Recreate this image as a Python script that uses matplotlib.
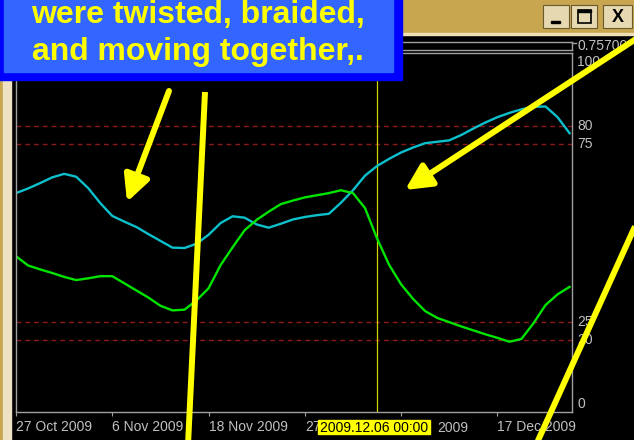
import numpy as np
import matplotlib
matplotlib.use("Agg")
import matplotlib.pyplot as plt
from matplotlib.patches import Rectangle, FancyArrowPatch
from matplotlib.lines import Line2D
import matplotlib.transforms as mtransforms

plt.rcParams['font.family'] = ['Liberation Sans', 'DejaVu Sans']

# ── data ─────────────────────────────────────────────────────────────────────
bar_index = np.arange(47)
cyan_line = [61.2, 62.5, 64.0, 65.6, 66.6, 65.8, 62.6, 58.4, 54.8, 53.2,
             51.7, 49.7, 47.8, 45.9, 45.8, 47.0, 49.5, 52.8, 54.7, 54.3,
             52.4, 51.5, 52.6, 53.8, 54.5, 55.0, 55.4, 58.5, 62.0, 66.1,
             68.8, 70.8, 72.6, 74.0, 75.2, 75.6, 76.0, 77.5, 79.3, 81.0,
             82.5, 83.7, 84.7, 85.4, 85.5, 82.5, 78.0]
green_line = [43.5, 40.9, 39.8, 38.8, 37.7, 36.8, 37.3, 37.9, 37.9, 35.9,
              33.9, 31.9, 29.6, 28.3, 28.5, 31.1, 34.5, 41.0, 46.0, 50.8,
              53.7, 56.0, 58.1, 59.1, 60.0, 60.6, 61.2, 62.0, 61.2, 57.0,
              48.5, 41.1, 35.6, 31.5, 28.1, 26.2, 25.0, 23.8, 22.7, 21.6,
              20.6, 19.5, 20.3, 24.7, 29.8, 32.8, 34.9]
tick_bars = [0, 8, 16, 24, 32, 40]
# the 27 Nov / 7 Dec labels sit mostly under the cursor date box
tick_labels = ["27 Oct 2009", "6 Nov 2009", "18 Nov 2009", "27", "", "17 Dec 2009"]
hidden_tail = "2009"
level_values = [80, 75, 25, 20]
scale_labels = [100, 80, 75, 25, 20, 0]
cursor_bar = 30
cursor_text = "2009.12.06 00:00"
price_text = "0.75700"
note_lines = ["were twisted, braided,", "and moving together,."]

W, H = 634, 440
GREY = "#c0c0c0"

fig = plt.figure(figsize=(W / 100, H / 100), dpi=100, facecolor="black")

# ── indicator window ─────────────────────────────────────────────────────────
L, R, T, B = 16, 572, 53, 412
ax = fig.add_axes([L / W, (H - B) / H, (R - L) / W, (B - T) / H])
ax.set_facecolor("black")
ax.set_xlim(0, 46.2)
ax.set_ylim(-0.2, 100.5)
for s in ax.spines.values():
    s.set_color("#a0a0a0")
    s.set_linewidth(1)

for lv in level_values:
    ax.axhline(lv, color="#8c1a1a", lw=1, linestyle=(0, (3.5, 2.8)))
ax.axvline(cursor_bar, color="#d4d400", lw=0.9)

ax.plot(bar_index, cyan_line, color="#0cc0cc", lw=1.7)
ax.plot(bar_index, green_line, color="#00e400", lw=1.7)

ax.set_xticks(tick_bars)
ax.set_xticklabels(tick_labels, ha="left")
ax.set_yticks([])
ax.tick_params(axis="x", colors="#a0a0a0", labelcolor=GREY, length=3,
               pad=3, labelsize=10)

# right scale labels
trans = mtransforms.blended_transform_factory(ax.transAxes, ax.transData)
for v in scale_labels:
    va = "top" if v == 100 else ("bottom" if v == 0 else "center")
    ax.text(1.009, v, str(v), transform=trans, ha="left", va=va,
            color=GREY, fontsize=10)

# ── window chrome + annotations (pixel overlay) ──────────────────────────────
ov = fig.add_axes([0, 0, 1, 1], zorder=5)
ov.set_xlim(0, W)
ov.set_ylim(H, 0)
ov.axis("off")
ov.patch.set_visible(False)

# title bar
ov.add_patch(Rectangle((0, 0), W, 33, color="#c8a650", zorder=1))
ov.add_patch(Rectangle((0, 33), W, 2, color="#eee0b4", zorder=1))
# left frame strip
ov.add_patch(Rectangle((0, 35), 3, H, color="#c8a650", zorder=1))
ov.add_patch(Rectangle((3, 35), 8, H, color="#efe2c4", zorder=1))

# window buttons
for x0, x1 in [(543, 569), (571, 597), (603, 632)]:
    ov.add_patch(Rectangle((x0, 5), x1 - x0, 23, facecolor="#e6d8b0",
                           edgecolor="#6b5a30", lw=0.8, zorder=2))
ov.add_patch(Rectangle((551, 21), 9, 2.5, color="black", zorder=3))
ov.add_patch(Rectangle((578, 10), 13, 13, facecolor="none",
                       edgecolor="black", lw=1.2, zorder=3))
ov.add_patch(Rectangle((578, 10), 13, 2, color="black", zorder=3))
ov.text(617.5, 17, "X", ha="center", va="center", fontsize=13,
        fontweight="bold", color="black", zorder=3)

# main chart strip above the indicator
ov.add_line(Line2D([16, 572], [41.7, 41.7], color="#a0a0a0", lw=1, zorder=2))
ov.add_line(Line2D([16, 572], [50, 50], color="#a0a0a0", lw=1, zorder=2))
ov.add_line(Line2D([572, 572], [41.7, 50], color="#a0a0a0", lw=1, zorder=2))
ov.add_line(Line2D([572, 576], [43, 43], color="#a0a0a0", lw=1, zorder=2))
ov.text(578, 46, price_text, ha="left", va="center", color=GREY,
        fontsize=10, zorder=2)

# crosshair date label and the visible tail of the covered tick label
ov.add_patch(Rectangle((318, 420), 112, 14, color="#ffff00", zorder=2))
ov.text(374, 427.5, cursor_text, ha="center", va="center", color="black",
        fontsize=10, zorder=3)
ov.text(437, 427.5, hidden_tail, ha="left", va="center", color=GREY,
        fontsize=10, zorder=2)

# blue caption box
ov.add_patch(Rectangle((-5, -5), 407, 85, color="#0000ff", zorder=4))
ov.add_patch(Rectangle((4, -5), 389, 77, color="#3366ff", zorder=4))
for yb, txt in zip([23, 60], note_lines):
    ov.text(198, yb, txt, ha="center", va="baseline", color="#ffff00",
            fontsize=23, fontweight="bold", zorder=5)

# yellow pointers
YEL = "#ffff00"
ov.add_line(Line2D([205, 188], [92, 445], color=YEL, lw=4.3, zorder=6,
                   solid_capstyle="butt"))
ov.add_line(Line2D([637, 536], [222, 445], color=YEL, lw=4.3, zorder=6,
                   solid_capstyle="butt"))
for a, b in [((169, 91), (127, 202)), ((645, 33), (405, 190))]:
    ov.add_patch(FancyArrowPatch(a, b, arrowstyle="-|>,head_length=1.3,head_width=0.65",
                                 mutation_scale=12, color=YEL, lw=4.3,
                                 shrinkA=0, shrinkB=0, zorder=6))

fig.savefig("out.png", dpi=100, facecolor="black")
